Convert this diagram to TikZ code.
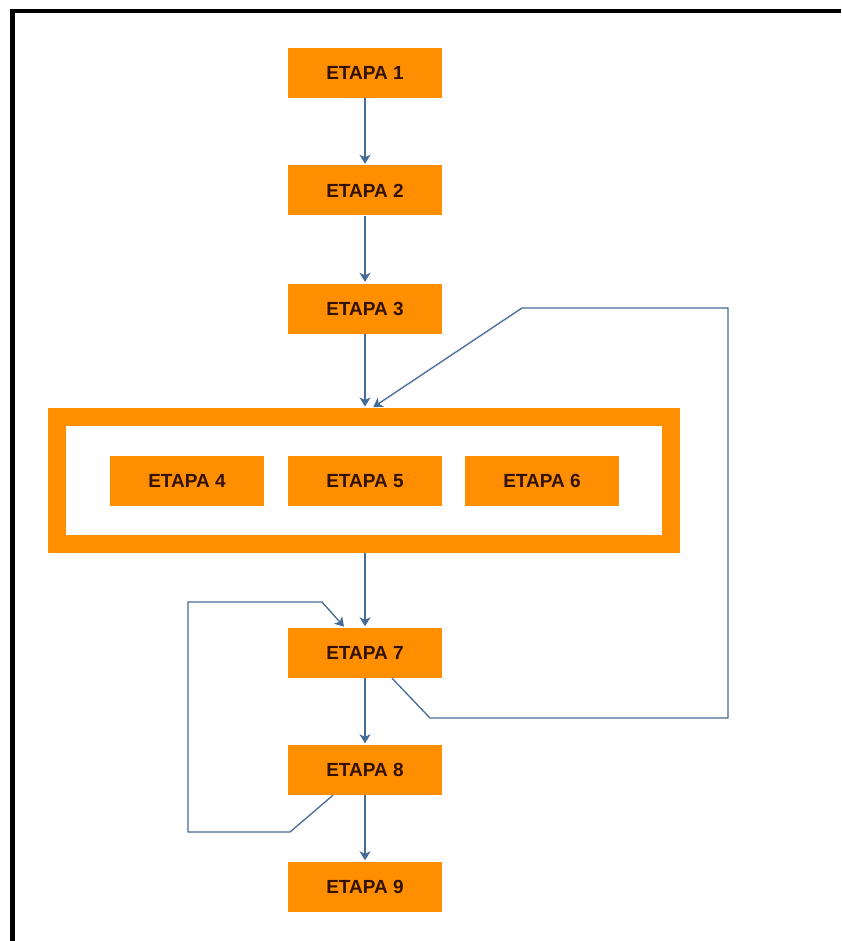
\documentclass[tikz,border=0pt]{standalone}
\usepackage{fontspec}
\setmainfont{Liberation Sans}
\usetikzlibrary{arrows.meta,calc}
\definecolor{etorange}{RGB}{255,142,0}
\definecolor{etblue}{RGB}{68,108,150}
\definecolor{ettext}{RGB}{50,18,5}
\tikzset{
  etapa/.style={fill=etorange, minimum width=154pt, minimum height=50pt, inner sep=0pt,
    text=ettext, font=\fontsize{19}{22}\selectfont\bfseries},
  conn/.style={draw=etblue, line width=1.3pt, shorten >=1.5pt, -{Stealth[length=9pt,width=11pt,inset=2.5pt]}}
}
\begin{document}
\begin{tikzpicture}[x=1pt,y=-1pt]
\useasboundingbox (0,0) rectangle (841,941);
\fill[white] (0,0) rectangle (841,941);
\draw[black, line width=4.5pt] (12.5,941) -- (12.5,11) -- (841,11);

\node[etapa] (e1) at (365,73) {ETAPA 1};
\node[etapa] (e2) at (365,190.5) {ETAPA 2};
\node[etapa] (e3) at (365,308.5) {ETAPA 3};
\node[draw=etorange, line width=18pt, outer sep=9pt, minimum width=614pt, minimum height=127pt, inner sep=0pt] (frame) at (364,480.5) {};
\node[etapa] (e4) at (187,481) {ETAPA 4};
\node[etapa] (e5) at (365,481) {ETAPA 5};
\node[etapa] (e6) at (542,481) {ETAPA 6};
\node[etapa] (e7) at (365,653) {ETAPA 7};
\node[etapa] (e8) at (365,770) {ETAPA 8};
\node[etapa] (e9) at (365,887) {ETAPA 9};

\coordinate (r1) at (430,718);
\coordinate (r2) at (728,718);
\coordinate (r3) at (728,308);
\coordinate (r4) at (522,308);
\coordinate (l1) at (290,832);
\coordinate (l2) at (188,832);
\coordinate (l3) at (188,602);
\coordinate (l4) at (322,602);

\draw[conn] (e1) -- (e2);
\draw[conn] (e2) -- (e3);
\draw[conn] (e3.south) -- (e3.south |- frame.north);
\draw[conn] (e7.south |- frame.south) -- (e7.north);
\draw[conn] (e7) -- (e8);
\draw[conn] (e8) -- (e9);
\draw[conn] ($(e7.south)+(27,0)$) -- (r1) -- (r2) -- (r3) -- (r4) -- ($(frame.north)+(8,0)$);
\draw[conn] ($(e8.south)+(-32,0)$) -- (l1) -- (l2) -- (l3) -- (l4) -- ($(e7.north)+(-20,0)$);
\end{tikzpicture}
\end{document}
